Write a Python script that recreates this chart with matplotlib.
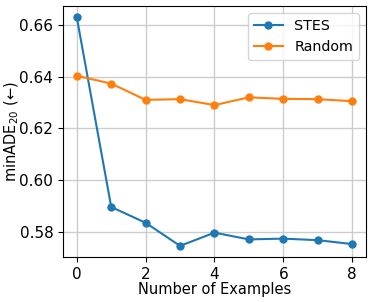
import matplotlib
matplotlib.use("Agg")
import matplotlib.pyplot as plt

examples = [0, 1, 2, 3, 4, 5, 6, 7, 8]
stes = [0.6628, 0.5897, 0.5836, 0.5747, 0.5798, 0.5772, 0.5775, 0.5769, 0.5754]
random_sel = [0.6403, 0.6373, 0.6310, 0.6313, 0.6290, 0.6320, 0.6314, 0.6313, 0.6305]

plt.rcParams['font.size'] = 11
fig = plt.figure(figsize=(3.73, 3.02), dpi=100)
ax = fig.add_axes([0.169, 0.148, 0.812, 0.832])
ax.plot(examples, stes, marker='o', markersize=5, linewidth=1.5, color='#1f77b4', label='STES')
ax.plot(examples, random_sel, marker='o', markersize=5, linewidth=1.5, color='#ff7f0e', label='Random')
ax.grid(True, color='#cccccc', linewidth=1)
ax.set_axisbelow(True)
ax.set_xticks([0, 2, 4, 6, 8])
ax.set_yticks([0.58, 0.60, 0.62, 0.64, 0.66])
ax.tick_params(labelsize=11)
ax.set_xlabel('Number of Examples', fontsize=10.5, labelpad=0)
ax.set_ylabel('minADE$_{20}$ (←)', fontsize=10.5)
ax.yaxis.set_label_coords(-0.14, 0.5)
ax.legend(loc='upper right', fontsize=10.3)
fig.savefig('out.png', dpi=100)
